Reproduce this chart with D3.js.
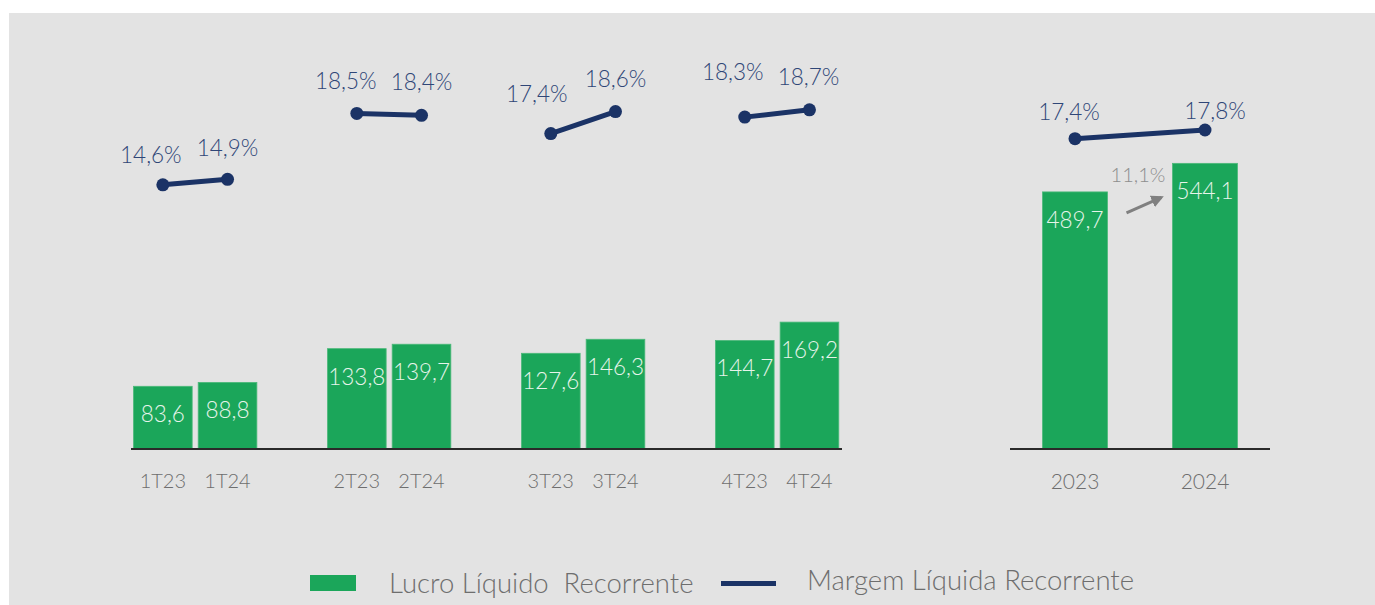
<!DOCTYPE html>
<html>
<head>
<meta charset="utf-8">
<script src="https://cdnjs.cloudflare.com/ajax/libs/d3/7.8.5/d3.min.js"></script>
<style>
  body { margin: 0; background: #ffffff; }
  svg { display: block; font-family: Lato, "Open Sans", "Noto Sans", sans-serif; font-weight: 300; }
</style>
</head>
<body>
<svg id="chart" width="1375" height="605"></svg>
<script>
// quarterly data
const quarters = ['1T', '2T', '3T', '4T'];
const years = ['23', '24'];
const lucro23 = [83.6, 133.8, 127.6, 144.7];
const lucro24 = [88.8, 139.7, 146.3, 169.2];
const margem23 = [14.6, 18.5, 17.4, 18.3];
const margem24 = [14.9, 18.4, 18.6, 18.7];

// annual data
const anos = ['2023', '2024'];
const lucroAno = [489.7, 544.1];
const margemAno = [17.4, 17.8];

const legendLabels = ['Lucro Líquido  Recorrente', 'Margem Líquida Recorrente'];

const green = '#1ba65a';
const navy = '#1b3366';
const navyText = '#2f4677';
const grayText = '#6e6e6e';

const fmt = v => d3.format('.1f')(v).replace('.', ',');

const svg = d3.select('#chart');

svg.append('rect')
  .attr('x', 9).attr('y', 13)
  .attr('width', 1375 - 9).attr('height', 605 - 13)
  .attr('fill', '#e3e3e3');

const baseY = 449;

// ---- left panel: quarters ----
const x0 = d3.scaleBand().domain(quarters).range([133.5, 838.8]).paddingInner(0.364).paddingOuter(0);
const x1 = d3.scaleBand().domain(years).range([0, x0.bandwidth()]).paddingInner(0.093);
const yBar = d3.scaleLinear().domain([0, 200]).range([baseY, 299]);
const yLine = d3.scaleLinear().domain([0, 20]).range([452, 86]);

const qData = quarters.map((q, i) => ({
  q: q,
  bars: [
    { q: q, y: '23', v: lucro23[i], m: margem23[i] },
    { q: q, y: '24', v: lucro24[i], m: margem24[i] }
  ]
}));

// label nudges (dx, dy) for margin labels, first / second point of each pair
const nudgeQ = [
  [[-12, -22], [0, -23]],
  [[-11, -24], [0, -25]],
  [[-14, -32], [0, -25]],
  [[-12, -37], [-1, -25]]
];

const groups = svg.append('g').selectAll('g')
  .data(qData)
  .join('g')
  .attr('transform', d => `translate(${x0(d.q)},0)`);

groups.selectAll('rect')
  .data(d => d.bars)
  .join('rect')
  .attr('x', d => x1(d.y))
  .attr('y', d => yBar(d.v))
  .attr('width', x1.bandwidth())
  .attr('height', d => baseY - yBar(d.v))
  .attr('fill', green)
  .attr('stroke', '#4cb97a')
  .attr('stroke-width', 0.8);

groups.selectAll('text.val')
  .data(d => d.bars)
  .join('text')
  .attr('class', 'val')
  .attr('x', d => x1(d.y) + x1.bandwidth() / 2)
  .attr('y', d => yBar(d.v) + 36)
  .attr('text-anchor', 'middle')
  .attr('fill', '#e6f4ea')
  .style('font-size', '22.5px')
  .text(d => fmt(d.v));

groups.selectAll('text.cat')
  .data(d => d.bars)
  .join('text')
  .attr('class', 'cat')
  .attr('x', d => x1(d.y) + x1.bandwidth() / 2)
  .attr('y', 488)
  .attr('text-anchor', 'middle')
  .attr('fill', grayText)
  .style('font-size', '20px')
  .text(d => d.q + d.y);

const line = d3.line()
  .x(d => x1(d.y) + x1.bandwidth() / 2)
  .y(d => yLine(d.m));

groups.append('path')
  .attr('d', d => line(d.bars))
  .attr('fill', 'none')
  .attr('stroke', navy)
  .attr('stroke-width', 5);

groups.selectAll('circle')
  .data(d => d.bars)
  .join('circle')
  .attr('cx', d => x1(d.y) + x1.bandwidth() / 2)
  .attr('cy', d => yLine(d.m))
  .attr('r', 6.5)
  .attr('fill', navy);

groups.each(function(d, gi) {
  d3.select(this).selectAll('text.pct')
    .data(d.bars)
    .join('text')
    .attr('class', 'pct')
    .attr('x', (b, j) => x1(b.y) + x1.bandwidth() / 2 + nudgeQ[gi][j][0])
    .attr('y', (b, j) => yLine(b.m) + nudgeQ[gi][j][1])
    .attr('text-anchor', 'middle')
    .attr('fill', navyText)
    .style('font-size', '22.5px')
    .text(b => fmt(b.m) + '%');
});

svg.append('line')
  .attr('x1', 131).attr('x2', 842)
  .attr('y1', baseY).attr('y2', baseY)
  .attr('stroke', '#2a2a2a').attr('stroke-width', 2);

// ---- right panel: years ----
const xA = d3.scaleBand().domain(anos).range([1010, 1270]).paddingInner(0.5).paddingOuter(0.25);
const yBarA = d3.scaleLinear().domain([0, 600]).range([baseY, 134]);
const yLineA = d3.scaleLinear().domain([15, 20]).range([190.9, 82.15]);
const nudgeA = [[-6, -19], [10, -11]];

const aData = anos.map((a, i) => ({ a: a, v: lucroAno[i], m: margemAno[i] }));
const right = svg.append('g');
const cx = d => xA(d.a) + xA.bandwidth() / 2;

right.selectAll('rect')
  .data(aData)
  .join('rect')
  .attr('x', d => xA(d.a))
  .attr('y', d => yBarA(d.v))
  .attr('width', xA.bandwidth())
  .attr('height', d => baseY - yBarA(d.v))
  .attr('fill', green)
  .attr('stroke', '#4cb97a')
  .attr('stroke-width', 0.8);

right.selectAll('text.val')
  .data(aData)
  .join('text')
  .attr('class', 'val')
  .attr('x', cx)
  .attr('y', d => yBarA(d.v) + 36)
  .attr('text-anchor', 'middle')
  .attr('fill', '#e6f4ea')
  .style('font-size', '22.5px')
  .text(d => fmt(d.v));

right.selectAll('text.cat')
  .data(aData)
  .join('text')
  .attr('class', 'cat')
  .attr('x', cx)
  .attr('y', 489)
  .attr('text-anchor', 'middle')
  .attr('fill', grayText)
  .style('font-size', '21px')
  .text(d => d.a);

right.append('path')
  .attr('d', d3.line().x(cx).y(d => yLineA(d.m))(aData))
  .attr('fill', 'none')
  .attr('stroke', navy)
  .attr('stroke-width', 5);

right.selectAll('circle')
  .data(aData)
  .join('circle')
  .attr('cx', cx)
  .attr('cy', d => yLineA(d.m))
  .attr('r', 6.5)
  .attr('fill', navy);

right.selectAll('text.pct')
  .data(aData)
  .join('text')
  .attr('class', 'pct')
  .attr('x', (d, i) => cx(d) + nudgeA[i][0])
  .attr('y', (d, i) => yLineA(d.m) + nudgeA[i][1])
  .attr('text-anchor', 'middle')
  .attr('fill', navyText)
  .style('font-size', '22.5px')
  .text(d => fmt(d.m) + '%');

right.append('line')
  .attr('x1', 1010).attr('x2', 1270)
  .attr('y1', baseY).attr('y2', baseY)
  .attr('stroke', '#2a2a2a').attr('stroke-width', 2);

// growth arrow between the annual bars
const growth = (lucroAno[1] / lucroAno[0] - 1) * 100;
const ax1 = xA(anos[0]) + xA.bandwidth() + 19;
const ax2 = xA(anos[1]) - 11;
const ay1 = yBarA(lucroAno[0]) + 21;
const ay2 = yBarA(lucroAno[1]) + 34;

svg.append('defs').append('marker')
  .attr('id', 'arrow')
  .attr('viewBox', '0 0 10 10')
  .attr('refX', 8).attr('refY', 5)
  .attr('markerWidth', 4.2).attr('markerHeight', 4.2)
  .attr('orient', 'auto')
  .append('path')
  .attr('d', 'M0,0 L10,5 L0,10 z')
  .attr('fill', '#808080');

right.append('line')
  .attr('x1', ax1).attr('y1', ay1)
  .attr('x2', ax2).attr('y2', ay2)
  .attr('stroke', '#808080')
  .attr('stroke-width', 3)
  .attr('marker-end', 'url(#arrow)');

right.append('text')
  .attr('x', (ax1 + ax2) / 2 - 6)
  .attr('y', yBarA(lucroAno[1]) + 19)
  .attr('text-anchor', 'middle')
  .attr('fill', '#8e8e8e')
  .style('font-size', '20px')
  .text(fmt(growth) + '%');

// ---- legend ----
const legend = svg.append('g');
legend.append('rect')
  .attr('x', 310).attr('y', 575)
  .attr('width', 46).attr('height', 16)
  .attr('fill', green);
legend.append('text')
  .attr('x', 389).attr('y', 593)
  .attr('fill', grayText)
  .style('font-size', '27.5px')
  .style('white-space', 'pre')
  .text(legendLabels[0]);
legend.append('line')
  .attr('x1', 721).attr('x2', 776)
  .attr('y1', 583.5).attr('y2', 583.5)
  .attr('stroke', navy)
  .attr('stroke-width', 5);
legend.append('text')
  .attr('x', 807).attr('y', 590)
  .attr('fill', grayText)
  .style('font-size', '27.5px')
  .text(legendLabels[1]);
</script>
</body>
</html>
